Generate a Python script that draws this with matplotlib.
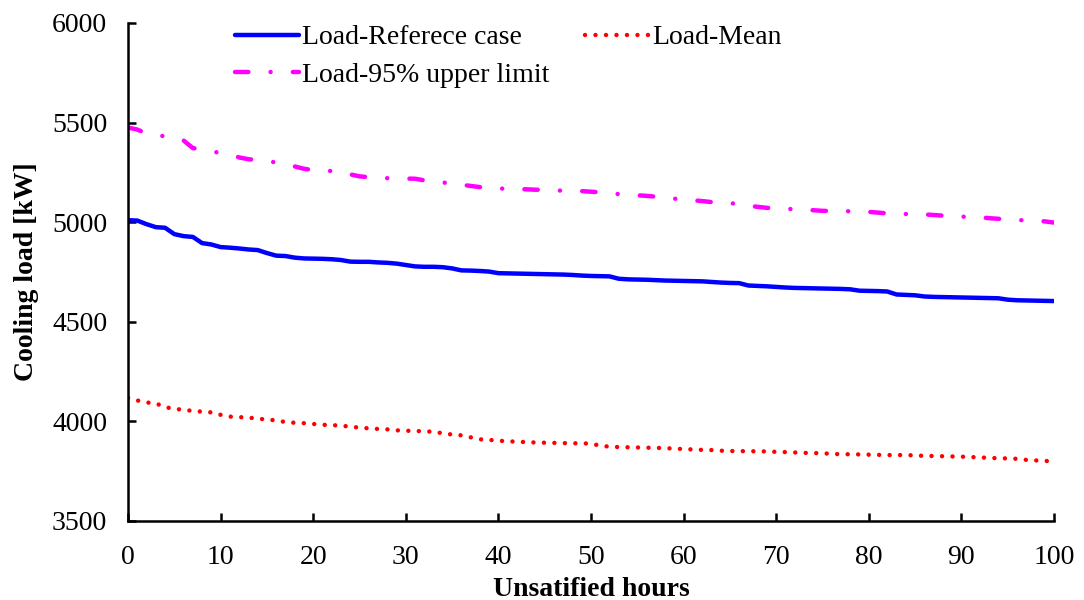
import matplotlib
matplotlib.use("Agg")
import matplotlib.pyplot as plt
import numpy as np

plt.rcParams['font.family'] = ['Liberation Serif', 'DejaVu Serif']

hours = list(range(0, 101))

load_reference = [
    5010, 5008, 4990, 4975, 4972, 4940, 4930, 4926, 4895, 4888,
    4875, 4872, 4868, 4863, 4860, 4845, 4832, 4830, 4822, 4818,
    4817, 4816, 4814, 4810, 4802, 4801, 4801, 4798, 4796, 4792,
    4785, 4778, 4776, 4776, 4774, 4768, 4758, 4757, 4755, 4752,
    4744, 4743, 4742, 4741, 4740, 4739, 4738, 4737, 4735, 4732,
    4730, 4729, 4728, 4716, 4713, 4712, 4711, 4709, 4707, 4706,
    4705, 4704, 4703, 4700, 4697, 4695, 4694, 4682, 4680, 4678,
    4675, 4672, 4670, 4669, 4668, 4667, 4666, 4665, 4663, 4656,
    4655, 4654, 4652, 4637, 4635, 4633, 4627, 4625, 4624, 4623,
    4622, 4621, 4620, 4619, 4618, 4611, 4608, 4607, 4606, 4605,
    4604,
]

load_mean = [
    4118, 4105, 4095, 4090, 4072, 4062, 4059, 4052, 4049, 4045,
    4033, 4024, 4021, 4020, 4012, 4011, 4004, 3997, 3993, 3991,
    3987, 3983, 3981, 3979, 3973, 3969, 3965, 3962, 3960, 3955,
    3953, 3952, 3950, 3948, 3940, 3934, 3930, 3920, 3910, 3907,
    3903, 3900, 3898, 3896, 3894, 3893, 3892, 3891, 3890, 3890,
    3888, 3878, 3873, 3871, 3870, 3869, 3868, 3867, 3866, 3863,
    3861, 3859, 3857, 3856, 3853, 3851, 3851, 3850, 3850, 3849,
    3847, 3846, 3844, 3842, 3841, 3840, 3837, 3835, 3835, 3834,
    3833, 3832, 3831, 3831, 3831, 3829, 3827, 3826, 3825, 3824,
    3823, 3821, 3819, 3817, 3815, 3814, 3812, 3807, 3804, 3802,
    3798,
]

load_upper95 = [
    5475, 5465, 5445, 5435, 5432, 5428, 5410, 5372, 5365, 5355,
    5348, 5340, 5325, 5316, 5312, 5306, 5300, 5293, 5280, 5268,
    5262, 5258, 5257, 5255, 5240, 5230, 5226, 5222, 5221, 5220,
    5219, 5218, 5210, 5202, 5199, 5195, 5188, 5182, 5176, 5170,
    5169, 5168, 5166, 5165, 5163, 5162, 5160, 5158, 5157, 5156,
    5153, 5150, 5146, 5141, 5138, 5135, 5132, 5128, 5123, 5118,
    5114, 5110, 5106, 5101, 5098, 5096, 5090, 5083, 5077, 5072,
    5069, 5067, 5065, 5064, 5060, 5057, 5056, 5055, 5055, 5054,
    5052, 5048, 5044, 5042, 5041, 5040, 5039, 5036, 5033, 5030,
    5028, 5026, 5025, 5020, 5017, 5014, 5011, 5009, 5008, 5004,
    4998,
]

x_ticks = [0, 10, 20, 30, 40, 50, 60, 70, 80, 90, 100]
y_ticks = [3500, 4000, 4500, 5000, 5500, 6000]

fs = 20

fig = plt.figure(figsize=(10.84, 6.0), dpi=100)
ax = fig.add_axes([0.1181, 0.1317, 0.8542, 0.83])

lw = 3.2
ax.plot(hours, load_reference, color='#0000ff', lw=lw, solid_capstyle='round',
        solid_joinstyle='round', label='Load-Referece case')
ax.plot(hours, load_upper95, color='#ff00ff', lw=lw,
        linestyle=(0, (3.0, 5.0, 0.01, 5.0)), dash_capstyle='round',
        label='Load-95% upper limit')
ax.plot(hours, load_mean, color='#ff0000', lw=lw,
        linestyle=(0, (0.01, 2.35)), dash_capstyle='round',
        label='Load-Mean')

ax.set_xlim(0, 100)
ax.set_ylim(3500, 6000)
ax.set_xticks(x_ticks)
ax.set_yticks(y_ticks)

for s in ['top', 'right']:
    ax.spines[s].set_visible(False)
for s in ['left', 'bottom']:
    ax.spines[s].set_linewidth(1.8)

ax.tick_params(axis='both', direction='in', length=6, width=1.8, labelsize=fs)
ax.tick_params(axis='y', pad=15)
ax.tick_params(axis='x', pad=17)

ax.set_xlabel('Unsatified hours', fontsize=fs, fontweight='bold', labelpad=5)
ax.set_ylabel('Cooling load [kW]', fontsize=fs, fontweight='bold', labelpad=9)

handles, labels = ax.get_legend_handles_labels()
leg = fig.legend(handles, labels, ncol=2, frameon=False, fontsize=fs,
                 loc='upper left', bbox_to_anchor=(235 / 1084, 1 - 25 / 600),
                 borderpad=0, borderaxespad=0, handlelength=2.3,
                 handletextpad=0.1, columnspacing=1.3, labelspacing=0.42)

fig.savefig('out.png', dpi=100)
